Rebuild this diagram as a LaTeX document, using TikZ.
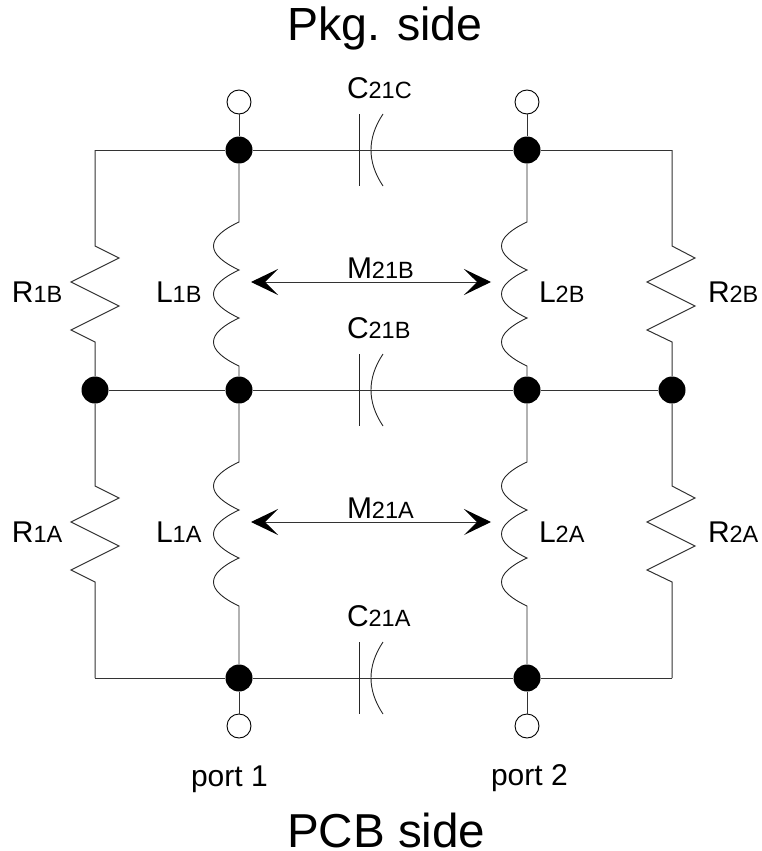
\documentclass[tikz,border=0pt]{standalone}
\usepackage{fontspec}
\setmainfont{Liberation Sans}
\usetikzlibrary{arrows.meta}
\newcommand{\sizedtext}[2]{\fontsize{#1}{#1}\selectfont #2}
\newcommand{\sublabel}[2]{\fontsize{30}{30}\selectfont #1\fontsize{23.5}{23.5}\selectfont #2}
\tikzset{
  x=1pt,y=-1pt,
  wire/.style={line width=1pt,draw=black!80},
  thinwire/.style={line width=0.9pt,draw=black!85},
  dot/.style={circle,fill=black,draw=none,minimum size=27pt,inner sep=0pt},
  port/.style={circle,fill=white,draw=black,line width=0.9pt,minimum size=24pt,inner sep=0pt},
  lab/.style={anchor=base west,inner sep=0pt,outer sep=0pt},
  head/.style={lab,font=\sizedtext{47.6}{}},
  mutual/.style={wire,{Stealth[length=27pt,width=26pt,inset=13pt,color=black]}-{Stealth[length=27pt,width=26pt,inset=13pt,color=black]}},
}
\newcommand{\resistor}[3]{% from, to (named), y offset of the zigzag start
  \draw[wire] (#1) |- (95,#3) -- (119,#3+12) -- (71,#3+36) -- (119,#3+60) -- (71,#3+84) -- (95,#3+96) -- (#2);}
\newcommand{\resistorR}[3]{%
  \draw[wire] (#1) |- (672,#3) -- (695,#3+12) -- (647,#3+36) -- (695,#3+60) -- (647,#3+84) -- (672,#3+96) -- (#2);}
\newcommand{\inductor}[4]{% from, to, x, start y
  \draw[thinwire] (#1) -- (#3,#4)
    .. controls (#3-34,#4+16) and (#3-34,#4+32) .. (#3,#4+48)
    .. controls (#3-34,#4+64) and (#3-34,#4+80) .. (#3,#4+96)
    .. controls (#3-34,#4+112) and (#3-34,#4+128) .. (#3,#4+144) -- (#2);}
\newcommand{\capacitor}[3]{% left, right, y
  \draw[wire] (#1) -- (#2);
  \draw[thinwire] (359,#3-36) -- (359,#3+36);
  \draw[thinwire] (383,#3-36) .. controls (367,#3-12) and (367,#3+12) .. (383,#3+36);}
\begin{document}
\begin{tikzpicture}
\useasboundingbox (0,0) rectangle (761,851);
% junctions
\node[dot] (t1) at (239,150) {};
\node[dot] (t2) at (527,150) {};
\node[dot] (ml) at (95,390) {};
\node[dot] (m1) at (239,390) {};
\node[dot] (m2) at (527,390) {};
\node[dot] (mr) at (672,390) {};
\node[dot] (b1) at (239,678) {};
\node[dot] (b2) at (527,678) {};
\node[port] (pt1) at (239,102) {};
\node[port] (pt2) at (527,102) {};
\node[port] (pb1) at (239,726) {};
\node[port] (pb2) at (527,726) {};
\coordinate (ctl) at (95,150);
\coordinate (ctr) at (672,150);
\coordinate (cbl) at (95,678);
\coordinate (cbr) at (672,678);
\coordinate (a1) at (251,282);
\coordinate (a2) at (491,282);
\coordinate (a3) at (251,522);
\coordinate (a4) at (491,522);
% wires
\draw[wire] (pt1) -- (t1);
\draw[wire] (pt2) -- (t2);
\draw[wire] (pb1) -- (b1);
\draw[wire] (pb2) -- (b2);
\draw[wire] (ctl) -- (t1);
\draw[wire] (t2) -- (ctr);
\draw[wire] (cbl) -- (b1);
\draw[wire] (b2) -- (cbr);
\draw[wire] (ml) -- (m1);
\draw[wire] (m2) -- (mr);
\capacitor{t1}{t2}{150}
\capacitor{m1}{m2}{390}
\capacitor{b1}{b2}{678}
\resistor{ctl}{ml}{246}
\resistor{ml}{cbl}{486}
\resistorR{ctr}{mr}{246}
\resistorR{mr}{cbr}{486}
\inductor{t1}{m1}{239}{222}
\inductor{m1}{b1}{239}{462}
\inductor{t2}{m2}{527}{222}
\inductor{m2}{b2}{527}{462}
\draw[mutual] (a1) -- (a2);
\draw[mutual] (a3) -- (a4);
% labels
\node[lab,font=\sizedtext{46.5}{}] (lpkg) at (287,41) {Pkg. side};
\node[head] (lpcb) at (287,847) {PCB side};
\node[lab] (c21c) at (347,98) {\sublabel{C}{21C}};
\node[lab] (c21b) at (347,338) {\sublabel{C}{21B}};
\node[lab] (c21a) at (347,626) {\sublabel{C}{21A}};
\node[lab] (m21b) at (347,278) {\sublabel{M}{21B}};
\node[lab] (m21a) at (347,518) {\sublabel{M}{21A}};
\node[lab] (l1b) at (156,302) {\sublabel{L}{1B}};
\node[lab] (l1a) at (156,542) {\sublabel{L}{1A}};
\node[lab] (l2b) at (539,302) {\sublabel{L}{2B}};
\node[lab] (l2a) at (539,542) {\sublabel{L}{2A}};
\node[lab] (r1b) at (12,302) {\sublabel{R}{1B}};
\node[lab] (r1a) at (12,542) {\sublabel{R}{1A}};
\node[lab] (r2b) at (708,302) {\sublabel{R}{2B}};
\node[lab] (r2a) at (708,542) {\sublabel{R}{2A}};
\node[lab,font=\sizedtext{30}{}] (p1) at (191,786) {port 1};
\node[lab,font=\sizedtext{30}{}] (p2) at (491,785) {port 2};
\end{tikzpicture}
\end{document}
